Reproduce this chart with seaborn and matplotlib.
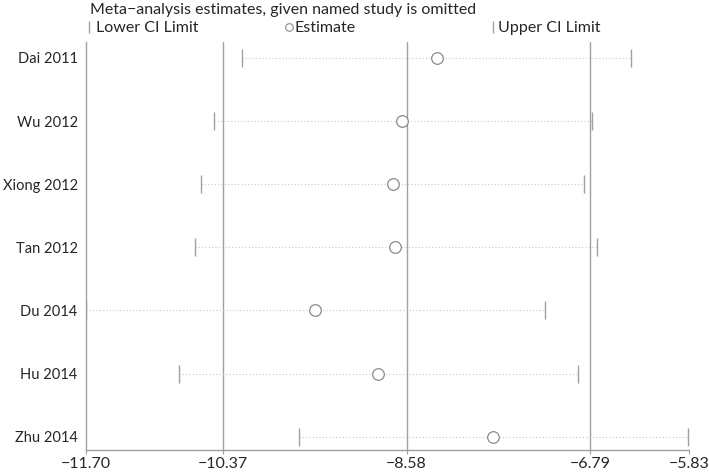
import matplotlib
matplotlib.use('Agg')
import seaborn as sns
import pandas as pd
from matplotlib import pyplot as plt

studies = ['Dai 2011', 'Wu 2012', 'Xiong 2012', 'Tan 2012', 'Du 2014', 'Hu 2014', 'Zhu 2014']
estimate = [-8.28, -8.62, -8.71, -8.69, -9.47, -8.86, -7.74]
lower = [-10.18, -10.45, -10.58, -10.64, -11.70, -10.79, -9.63]
upper = [-6.39, -6.77, -6.85, -6.73, -7.23, -6.91, -5.84]

# pooled estimate and CI (vertical reference lines), axis limits
pooled = [-10.37, -8.58, -6.79]
x_ticks = [-11.70, -10.37, -8.58, -6.79, -5.83]

df = pd.DataFrame({'study': studies, 'estimate': estimate, 'lower': lower, 'upper': upper})
df['pos'] = range(len(df))

sns.set_style('white')
plt.rcParams['font.family'] = ['Lato', 'DejaVu Sans']
fs = 11.5

fig = plt.figure(figsize=(7.09, 4.75), dpi=100)
ax = fig.add_axes([0.1213, 0.0526, 0.8505, 0.859])

grey = '#a0a0a0'

for x in pooled:
    ax.axvline(x, color=grey, lw=1, zorder=1)

ax.hlines(df['pos'], df['lower'], df['upper'], colors='#c8c8c8', linestyles=(0, (1, 2)), lw=0.8, zorder=2)

sns.scatterplot(data=df, x='lower', y='pos', marker='|', s=160, color=grey, linewidth=1, ax=ax, zorder=3)
sns.scatterplot(data=df, x='upper', y='pos', marker='|', s=160, color=grey, linewidth=1, ax=ax, zorder=3)
sns.scatterplot(data=df, x='estimate', y='pos', marker='o', s=70, facecolor='white', edgecolor='#8a8a8a',
                linewidth=0.9, ax=ax, zorder=4)

ax.set_xlim(x_ticks[0], x_ticks[-1])
ax.set_ylim(6.21, -0.253)
ax.set_xticks(x_ticks)
ax.set_xticklabels([f'{v:.2f}'.replace('-', '\u2212') for v in x_ticks], fontsize=fs)
ax.set_yticks(df['pos'])
ax.set_yticklabels(studies, fontsize=10.5)
ax.set_xlabel('')
ax.set_ylabel('')
ax.tick_params(axis='x', length=3, color=grey, pad=2, bottom=True)
ax.tick_params(axis='y', length=0, pad=6)

for s in ['top', 'right']:
    ax.spines[s].set_visible(False)
for s in ['left', 'bottom']:
    ax.spines[s].set_color(grey)
    ax.spines[s].set_linewidth(1)

# title and legend row
fig.text(0.127, 1 - 10 / 475, 'Meta\u2212analysis estimates, given named study is omitted', fontsize=fs, va='center')
leg_y = 1 - 28 / 475
mark_y = 1 - 27 / 475
ax.plot([0.126], [mark_y], marker='|', ms=8, color=grey, transform=fig.transFigure, clip_on=False)
fig.text(0.135, leg_y, 'Lower CI Limit', fontsize=fs, va='center')
ax.plot([0.408], [mark_y], marker='o', ms=5.5, mfc='white', mec='#8a8a8a', mew=0.8,
        transform=fig.transFigure, clip_on=False)
fig.text(0.415, leg_y, 'Estimate', fontsize=fs, va='center')
ax.plot([0.695], [mark_y], marker='|', ms=8, color=grey, transform=fig.transFigure, clip_on=False)
fig.text(0.703, leg_y, 'Upper CI Limit', fontsize=fs, va='center')

fig.savefig('out.png', dpi=100)
